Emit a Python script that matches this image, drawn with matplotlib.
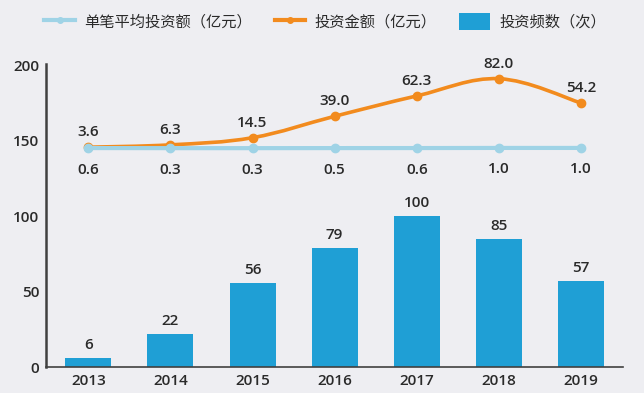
import numpy as np
import matplotlib.pyplot as plt
from matplotlib.path import Path
from matplotlib.patches import PathPatch
from matplotlib.lines import Line2D
from matplotlib.patches import Patch

plt.rcParams['font.family'] = ['Open Sans', 'Noto Sans CJK SC', 'DejaVu Sans']
plt.rcParams['font.weight'] = 'semibold'

years = ['2013', '2014', '2015', '2016', '2017', '2018', '2019']
counts = [6, 22, 56, 79, 100, 85, 57]
amounts = [3.6, 6.3, 14.5, 39.0, 62.3, 82.0, 54.2]
avg_amounts = [0.6, 0.3, 0.3, 0.5, 0.6, 1.0, 1.0]

bg = '#eeeef2'
bar_c = '#1f9fd5'
orange = '#f28b1e'
light = '#9fd3e6'
txt = '#2a2a2a'
fs = 11
cjk = ['Noto Sans CJK SC', 'DejaVu Sans']


def smooth_path(xs, ys, t=0.18):
    # catmull-rom style bezier control points, drawn by matplotlib's Path
    verts = [(xs[0], ys[0])]
    codes = [Path.MOVETO]
    n = len(xs)
    for i in range(n - 1):
        p0 = (xs[max(i - 1, 0)], ys[max(i - 1, 0)])
        p1 = (xs[i], ys[i])
        p2 = (xs[i + 1], ys[i + 1])
        p3 = (xs[min(i + 2, n - 1)], ys[min(i + 2, n - 1)])
        c1 = (p1[0] + (p2[0] - p0[0]) * t, p1[1] + (p2[1] - p0[1]) * t)
        c2 = (p2[0] - (p3[0] - p1[0]) * t, p2[1] - (p3[1] - p1[1]) * t)
        verts += [c1, c2, p2]
        codes += [Path.CURVE4] * 3
    return Path(verts, codes)


fig = plt.figure(figsize=(6.44, 3.93), dpi=100, facecolor=bg)
ax = fig.add_axes([0.0722, 0.066, 0.895, 0.768])
ax.set_facecolor(bg)

x = np.arange(len(years))
ax.bar(x, counts, width=0.56, color=bar_c, zorder=2)
for xi, c in zip(x, counts):
    ax.text(xi, c + 4, str(c), ha='center', va='bottom', fontsize=fs, color=txt)

ax.set_xlim(-0.51, 6.51)
ax.set_ylim(0, 200)
ax.set_yticks([0, 50, 100, 150, 200])
ax.set_xticks(x)
ax.set_xticklabels(years)
ax.tick_params(axis='both', length=0, labelsize=fs, colors=txt, pad=5)
for s in ['top', 'right']:
    ax.spines[s].set_visible(False)
ax.spines['left'].set_color('#404040')
ax.spines['left'].set_linewidth(1.8)
ax.spines['bottom'].set_color('#404040')
ax.spines['bottom'].set_linewidth(1.2)
ax.spines['left'].set_bounds(0, 201)

# amount line on hidden secondary axis
ax2 = ax.twinx()
ax2.set_ylim(-248, 97.4)
ax2.axis('off')
ax2.add_patch(PathPatch(smooth_path(list(x), amounts), facecolor='none',
                        edgecolor=orange, lw=2.6, zorder=3))
ax2.plot(x, amounts, 'o', color=orange, ms=6, zorder=4)
for xi, v in zip(x, amounts):
    ax2.text(xi, v + 9, f'{v:.1f}', ha='center', va='bottom', fontsize=fs, color=txt)

# average line on another hidden axis
ax3 = ax.twinx()
ax3.set_ylim(-725, 275)
ax3.axis('off')
ax3.plot(x, avg_amounts, '-o', color=light, lw=3, ms=6, zorder=3)
for xi, v in zip(x, avg_amounts):
    ax3.text(xi, v - 48, f'{v:.1f}', ha='center', va='top', fontsize=fs, color=txt)

handles = [
    Line2D([0], [0], color=light, lw=3, marker='o', ms=4),
    Line2D([0], [0], color=orange, lw=3, marker='o', ms=4),
    Patch(facecolor=bar_c),
]
labels = ['单笔平均投资额（亿元）', '投资金额（亿元）', '投资频数（次）']
fig.legend(handles, labels, loc='center', bbox_to_anchor=(0.505, 0.945), ncol=3,
           frameon=False, handlelength=2.0, handleheight=1.4,
           columnspacing=1.5, handletextpad=0.6, labelcolor=txt,
           prop={'family': cjk, 'size': 11, 'weight': 'medium'})

fig.savefig('out.png', dpi=100, facecolor=bg)
